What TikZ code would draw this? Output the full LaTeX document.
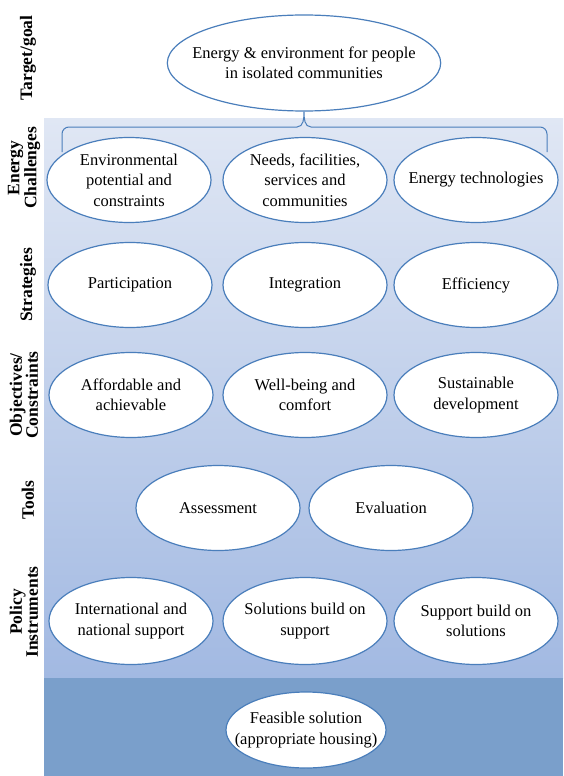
\documentclass[tikz,border=0pt]{standalone}
\usepackage{fontspec}
\setmainfont{Liberation Serif}
\usetikzlibrary{shapes.geometric}
\definecolor{bubbleline}{HTML}{4A7EBB}
\definecolor{bgtop}{HTML}{E0E7F4}
\definecolor{bgbottom}{HTML}{A2B9E2}
\definecolor{bgband}{HTML}{7A9FCB}
\tikzset{
  bubble/.style={ellipse, draw=bubbleline, fill=white, line width=1.2pt, minimum width=164pt, minimum height=85pt, inner xsep=-15pt, inner ysep=-6pt, align=center, font=\fontsize{16.5}{20.5}\selectfont},
  rowlabel/.style={rotate=90, align=center, font=\fontsize{17.5}{16}\selectfont\bfseries}
}
\begin{document}
\begin{tikzpicture}[x=1pt,y=-1pt]
	\useasboundingbox (0,0) rectangle (563,776);
	\shade[top color=bgtop, bottom color=bgbottom] (44,118) rectangle (563,678);
	\fill[bgband] (44,678) rectangle (563,776);

	\node[bubble, minimum width=272pt, minimum height=96pt] (goal) at (304,63) {Energy \& environment for people\\in isolated communities};

	\foreach \name/\x/\txt in {env/129/{Environmental\\potential and\\constraints}, needs/305/{Needs, facilities,\\services and\\communities}, tech/476/{Energy technologies}} {
	  \node[bubble] (\name) at (\x,180) {\txt};
	}

	\foreach \name/\x/\txt in {part/130/{Participation}, integ/305/{Integration}, effic/476/{Efficiency}} {
	  \node[bubble] (\name) at (\x,285) {\txt};
	}

	\foreach \name/\x/\txt in {afford/131/{Affordable and\\achievable}, wellb/305/{Well-being and\\comfort}, sustain/476/{Sustainable\\development}} {
	  \node[bubble] (\name) at (\x,395) {\txt};
	}

	\foreach \name/\x/\txt in {assess/218/{Assessment}, evalu/391/{Evaluation}} {
	  \node[bubble] (\name) at (\x,508) {\txt};
	}

	\foreach \name/\x/\txt in {intl/131/{International and\\national support}, solsup/305/{Solutions build on\\support}, supsol/476/{Support build on\\solutions}} {
	  \node[bubble, minimum height=87pt] (\name) at (\x,621) {\txt};
	}

	\node[bubble, minimum width=160pt, minimum height=76pt] (feasible) at (306,730) {Feasible solution\\(appropriate housing)};

	\node[rowlabel] (lgoal) at (28,58) {Target/goal};
	\node[rowlabel] (lchall) at (24,168) {Energy\\Challenges};
	\node[rowlabel] (lstrat) at (28,285) {Strategies};
	\node[rowlabel] (lobj) at (24,395) {Objectives/\\Constraints};
	\node[rowlabel] (ltools) at (28,500) {Tools};
	\node[rowlabel] (lpol) at (24,612) {Policy\\Instruments};

	\coordinate (bleft) at (62,152);
	\coordinate (bright) at (547,152);
	\draw[bubbleline, line width=1pt] (bleft) -- (62,134) to[out=90,in=180] (69,127) -- (297,127) to[out=0,in=-90] (goal.south) to[out=-90,in=180] (311,127) -- (540,127) to[out=0,in=90] (bright |- 0,134) -- (bright);
  \end{tikzpicture}
\end{document}
